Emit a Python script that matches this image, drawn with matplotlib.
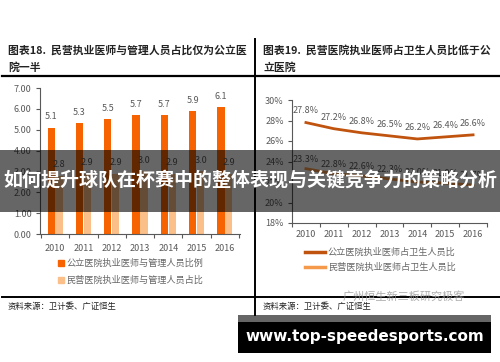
import numpy as np
import matplotlib
matplotlib.use('Agg')
import matplotlib.pyplot as plt
from matplotlib.lines import Line2D
from matplotlib.patches import Rectangle, Patch

plt.rcParams['font.family'] = ['Noto Sans CJK SC', 'DejaVu Sans']

years = ['2010', '2011', '2012', '2013', '2014', '2015', '2016']
# 图表18 管理人员占比
public_ratio = [5.1, 5.3, 5.5, 5.7, 5.7, 5.9, 6.1]
private_ratio = [2.8, 2.9, 2.9, 3.0, 2.9, 3.0, 2.9]
# 图表19 执业医师占卫生人员比 (%)
public_share = [27.8, 27.2, 26.8, 26.5, 26.2, 26.4, 26.6]
private_share = [23.3, 22.8, 22.6, 22.3, 22.0, 21.9, 21.7]

W, H = 500, 362
fig = plt.figure(figsize=(5, 3.62), dpi=100)
fig.patch.set_facecolor('white')

def fx(x):
    return x / W

def fy(y):
    return 1 - y / H

grey = '#595959'
c_pub_bar = '#F76300'
c_pri_bar = '#FBBF8A'
c_pub_line = '#C0530E'
c_pri_line = '#F59A4A'

# ---- left chart: bars
ax1 = fig.add_axes([fx(40), fy(234), fx(200), 146 / H])
x = np.arange(len(years))
w = 0.25
ax1.bar(x - 0.14, public_ratio, w, color=c_pub_bar)
ax1.bar(x + 0.14, private_ratio, w, color=c_pri_bar)
for i in range(len(years)):
    ax1.text(x[i] - 0.14, public_ratio[i] + 0.3, f'{public_ratio[i]:.1f}', ha='center', va='bottom',
             fontsize=6.5, color=grey)
    ax1.text(x[i] + 0.14, private_ratio[i] + 0.3, f'{private_ratio[i]:.1f}', ha='center', va='bottom',
             fontsize=6.5, color=grey)
ax1.set_ylim(0, 7)
ax1.set_xlim(-0.53, 6.53)
ax1.set_yticks(np.arange(0, 8, 1))
ax1.set_yticklabels([f'{v:.2f}' for v in range(8)])
ax1.set_xticks(x)
ax1.set_xticklabels(years)
ax1.set_xticks(np.arange(-0.5, 7, 1), minor=True)

# ---- right chart: lines
ax2 = fig.add_axes([fx(292), fy(223), fx(195), 123 / H])
ax2.plot(x, public_share, color=c_pub_line, lw=2)
ax2.plot(x, private_share, color=c_pri_line, lw=2)
for i in range(len(years)):
    ax2.text(x[i], public_share[i] + 0.7, f'{public_share[i]:.1f}%', ha='center', va='bottom',
             fontsize=6.5, color=grey)
    ax2.text(x[i], private_share[i] + 0.5, f'{private_share[i]:.1f}%', ha='center', va='bottom',
             fontsize=6.5, color=grey)
ax2.set_ylim(18, 30)
ax2.set_xlim(-0.46, 6.5)
ax2.set_yticks(np.arange(18, 31, 2))
ax2.set_yticklabels([f'{v}%' for v in range(18, 31, 2)])
ax2.set_xticks(x)
ax2.set_xticklabels(years)
ax2.set_xticks(np.arange(-0.5, 7, 1), minor=True)

for ax in (ax1, ax2):
    ax.spines[['top', 'right']].set_visible(False)
    for s in ('left', 'bottom'):
        ax.spines[s].set_color(grey)
        ax.spines[s].set_linewidth(0.8)
    ax.tick_params(axis='both', labelsize=6.5, colors=grey, labelcolor=grey)
    ax.tick_params(axis='x', which='major', length=0, pad=5)
    ax.tick_params(axis='x', which='minor', length=3, width=0.8, color=grey)
    ax.tick_params(axis='y', length=3, width=0.8, pad=3)
ax1.tick_params(axis='x', which='major', pad=7)

# legends
ax1.legend([Patch(color=c_pub_bar), Patch(color=c_pri_bar)],
           ['公立医院执业医师与管理人员比例', '民营医院执业医师与管理人员占比'],
           loc='upper left', bbox_to_anchor=(fx(58), fy(259)), bbox_transform=fig.transFigure,
           frameon=False, fontsize=6.6, handlelength=0.6, handleheight=0.6, handletextpad=0.35,
           labelspacing=0.85, labelcolor='#666666', borderaxespad=0, borderpad=0)
ax2.legend([Line2D([], [], color=c_pub_line, lw=2.5), Line2D([], [], color=c_pri_line, lw=2.5)],
           ['公立医院执业医师占卫生人员比', '民营医院执业医师占卫生人员比'],
           loc='upper left', bbox_to_anchor=(fx(305), fy(248)), bbox_transform=fig.transFigure,
           frameon=False, fontsize=6.6, handlelength=2.2, handletextpad=0.3,
           labelspacing=0.6, labelcolor='#666666', borderaxespad=0, borderpad=0)

# titles and frame lines
tkw = dict(fontsize=7.8, fontweight='bold', color='#222222', va='center', ha='left')
fig.text(fx(8), fy(50), '图表18.  民营执业医师与管理人员占比仅为公立医', **tkw)
fig.text(fx(8), fy(68), '院一半', **tkw)
fig.text(fx(263), fy(50), '图表19.  民营医院执业医师占卫生人员比低于公', **tkw)
fig.text(fx(263), fy(68), '立医院', **tkw)
fig.add_artist(Line2D([fx(2), 1], [fy(76), fy(76)], color='black', lw=1.6))
fig.add_artist(Line2D([fx(2), 1], [fy(297), fy(297)], color='black', lw=1.4))
fig.add_artist(Line2D([fx(255), fx(255)], [fy(39), fy(315)], color='black', lw=1.4))
skw = dict(fontsize=6, color='#222222', va='center', ha='left')
fig.text(fx(8), fy(307), '资料来源：卫计委、广证恒生', **skw)
fig.text(fx(263), fy(307), '资料来源：卫计委、广证恒生', **skw)
fig.text(fx(343), fy(296), '广州恒生新三板研究极客', fontsize=8, color='#9a9a9a', alpha=0.8,
         va='center', ha='left')

# banner overlay
fig.add_artist(Rectangle((0, fy(212)), 1, (212 - 150) / H, transform=fig.transFigure,
                         facecolor='black', alpha=0.6, edgecolor='none'))
fig.text(0.5, fy(181), '如何提升球队在杯赛中的整体表现与关键竞争力的策略分析', fontsize=13.7,
         fontweight='bold', color='white', ha='center', va='center')

# site watermark
fig.add_artist(Rectangle((fx(238), fy(322)), fx(253), 7 / H, transform=fig.transFigure,
                         facecolor='#666666', edgecolor='none'))
fig.add_artist(Rectangle((fx(238), fy(353)), fx(253), 31 / H, transform=fig.transFigure,
                         facecolor='black', edgecolor='none'))
fig.text(fx(364.5), fy(337), 'www.top-speedesports.com', fontsize=11, fontweight='bold',
         family='DejaVu Sans', color='white', ha='center', va='center')

fig.savefig('out.png', dpi=100)
